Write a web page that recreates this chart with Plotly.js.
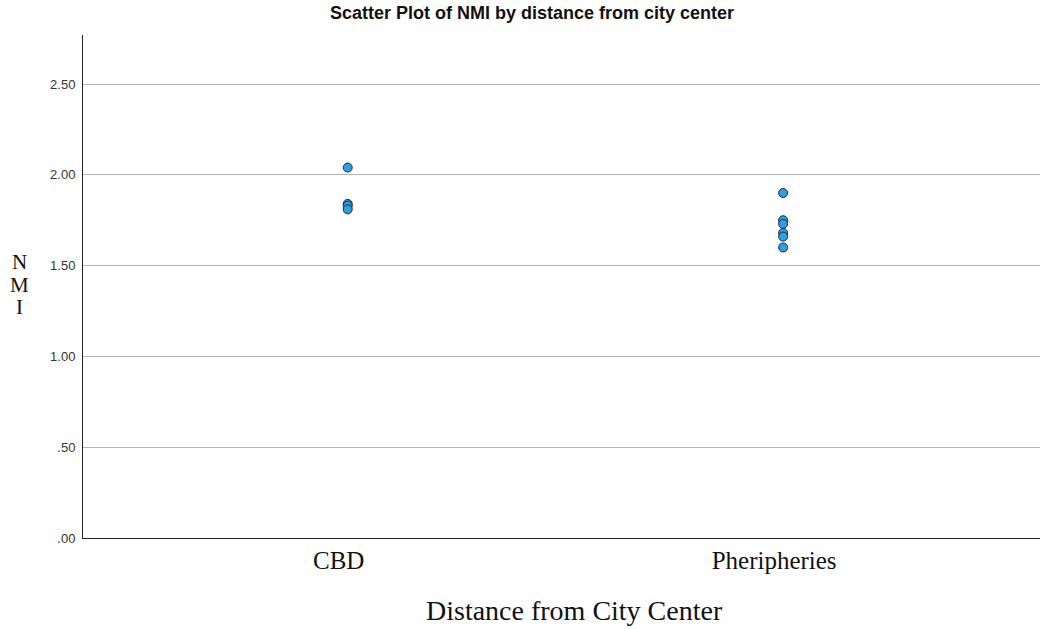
<!DOCTYPE html>
<html>
<head>
<meta charset="utf-8">
<script src="https://cdn.plot.ly/plotly-3.0.1.min.js"></script>
<style>html,body{margin:0;padding:0;background:#fff;}#chart{width:1043px;height:629px;}</style>
</head>
<body>
<div id="chart"></div>
<script>
const categories = ["CBD", "Pheripheries"];
const cbdValues = [2.04, 1.84, 1.83, 1.81];
const peripheryValues = [1.90, 1.75, 1.73, 1.68, 1.66, 1.60];
const yTickVals = [0, 0.5, 1, 1.5, 2, 2.5];
const yTickText = [".00", ".50", "1.00", "1.50", "2.00", "2.50"];
const yTitleLetters = ["N", "M", "I"];

const xs = [];
const ys = [];
cbdValues.forEach(v => { xs.push(categories[0]); ys.push(v); });
peripheryValues.forEach(v => { xs.push(categories[1]); ys.push(v); });

const trace = {
  type: "scatter",
  mode: "markers",
  x: xs,
  y: ys,
  marker: {size: 9, color: "#2f9fe3", line: {color: "#1d2b3a", width: 1}},
  hoverinfo: "x+y"
};

const serif = "Liberation Serif, Times New Roman, serif";
const letterY = [0.549, 0.503, 0.459];
const annotations = yTitleLetters.map((t, i) => ({
  text: t, xref: "paper", yref: "paper",
  x: -0.066, y: letterY[i], xanchor: "center", yanchor: "middle",
  showarrow: false,
  font: {family: serif, size: 21, color: "#111"}
}));
annotations.push({
  text: "Distance from City Center", xref: "paper", yref: "paper",
  x: (574 - 83) / 957, y: -0.144, xanchor: "center", yanchor: "middle",
  showarrow: false,
  font: {family: serif, size: 28, color: "#111"}
});

const layout = {
  width: 1043, height: 629,
  margin: {l: 83, r: 3, t: 35, b: 91},
  paper_bgcolor: "#ffffff",
  plot_bgcolor: "#ffffff",
  showlegend: false,
  title: {text: "<b>Scatter Plot of NMI by distance from city center</b>", x: 0.51, xanchor: "center", y: 0.99, yanchor: "top",
          font: {family: "Liberation Sans, Arial, sans-serif", size: 18, color: "#111"}},
  xaxis: {
    type: "category",
    categoryarray: categories,
    range: [-0.608, 1.59],
    showgrid: false,
    zeroline: false,
    showline: true, linecolor: "#222", linewidth: 1,
    ticks: "",
    ticklabelshift: -9,
    tickfont: {family: serif, size: 25, color: "#111"},
    fixedrange: true
  },
  yaxis: {
    range: [0, 2.77],
    tickvals: yTickVals,
    ticktext: yTickText,
    showgrid: true, gridcolor: "#b4b4b4", gridwidth: 1,
    zeroline: false,
    showline: true, linecolor: "#222", linewidth: 1,
    ticks: "",
    ticklabelstandoff: 4,
    tickfont: {family: "Liberation Sans, Arial, sans-serif", size: 13, color: "#333"},
    fixedrange: true
  },
  annotations: annotations
};

Plotly.newPlot("chart", [trace], layout, {displayModeBar: false, staticPlot: true});
</script>
</body>
</html>
